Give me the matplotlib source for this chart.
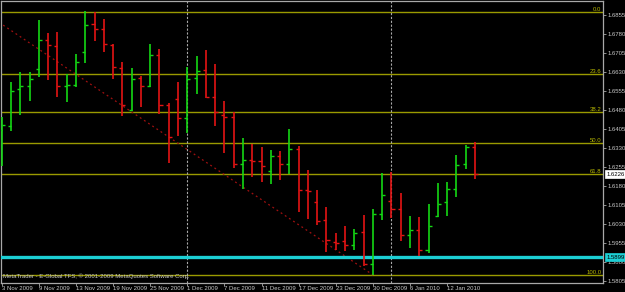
import matplotlib
matplotlib.use("Agg")
import matplotlib.pyplot as plt
import matplotlib.transforms as mtransforms

# daily GBPUSD-style bars, 3 Nov 2009 .. 14 Jan 2010
opens = [1.6401, 1.6417, 1.6563, 1.6575, 1.6642, 1.6756, 1.6733, 1.6575, 1.6579, 1.6709,
         1.6819, 1.6800, 1.6737, 1.6646, 1.6480, 1.6606, 1.6575, 1.6697, 1.6500, 1.6523,
         1.6448, 1.6606, 1.6638, 1.6531, 1.6460, 1.6452, 1.6267, 1.6283, 1.6279, 1.6239,
         1.6298, 1.6267, 1.6326, 1.6164, 1.6117, 1.6046, 1.5959, 1.5963, 1.5947, 1.5998,
         1.5872, 1.6069, 1.6121, 1.6089, 1.5987, 1.6006, 1.5927, 1.6062, 1.6117, 1.6168,
         1.6267, 1.6334]
highs = [1.6452, 1.6591, 1.6630, 1.6630, 1.6835, 1.6784, 1.6788, 1.6622, 1.6701, 1.6871,
         1.6867, 1.6839, 1.6741, 1.6669, 1.6646, 1.6614, 1.6741, 1.6721, 1.6508, 1.6591,
         1.6650, 1.6693, 1.6717, 1.6662, 1.6516, 1.6472, 1.6369, 1.6346, 1.6334, 1.6322,
         1.6318, 1.6405, 1.6338, 1.6243, 1.6164, 1.6097, 1.5994, 1.6022, 1.6010, 1.6066,
         1.6089, 1.6231, 1.6235, 1.6152, 1.6062, 1.6058, 1.6109, 1.6192, 1.6196, 1.6302,
         1.6342, 1.6354]
lows = [1.6259, 1.6397, 1.6460, 1.6516, 1.6610, 1.6598, 1.6531, 1.6512, 1.6571, 1.6666,
        1.6752, 1.6709, 1.6602, 1.6456, 1.6476, 1.6492, 1.6571, 1.6464, 1.6271, 1.6377,
        1.6389, 1.6543, 1.6527, 1.6417, 1.6310, 1.6251, 1.6168, 1.6216, 1.6196, 1.6188,
        1.6204, 1.6227, 1.6077, 1.6050, 1.6026, 1.5919, 1.5927, 1.5923, 1.5927, 1.5864,
        1.5829, 1.6046, 1.6054, 1.5963, 1.5935, 1.5904, 1.5916, 1.6058, 1.6062, 1.6137,
        1.6247, 1.6208]
closes = [1.6421, 1.6555, 1.6575, 1.6602, 1.6756, 1.6737, 1.6575, 1.6579, 1.6669, 1.6816,
          1.6800, 1.6741, 1.6650, 1.6500, 1.6602, 1.6575, 1.6697, 1.6500, 1.6373, 1.6448,
          1.6602, 1.6634, 1.6531, 1.6472, 1.6452, 1.6267, 1.6283, 1.6279, 1.6259, 1.6298,
          1.6267, 1.6326, 1.6164, 1.6160, 1.6042, 1.5967, 1.5955, 1.5947, 1.5994, 1.5872,
          1.6069, 1.6144, 1.6089, 1.5987, 1.6006, 1.5927, 1.6022, 1.6109, 1.6168, 1.6263,
          1.6334, 1.6226]

date_ticks = [0, 4, 8, 12, 16, 20, 24, 28, 32, 36, 40, 44, 48]
date_labels = ["3 Nov 2009", "9 Nov 2009", "13 Nov 2009", "19 Nov 2009", "25 Nov 2009",
               "1 Dec 2009", "7 Dec 2009", "11 Dec 2009", "17 Dec 2009", "23 Dec 2009",
               "30 Dec 2009", "6 Jan 2010", "12 Jan 2010"]
price_ticks = [1.6855, 1.6780, 1.6705, 1.6630, 1.6555, 1.6480, 1.6405, 1.6330,
               1.6255, 1.6180, 1.6105, 1.6030, 1.5955, 1.5880, 1.5805]

fib_high = 1.6868
fib_low = 1.5829
fib_start_bar = -2
fib_end_bar = 40
fib_levels = [0.0, 23.6, 38.2, 50.0, 61.8, 100.0]
month_separators = [20, 42]
support = 1.5899
last_price = 1.6226

BG = "#000000"
GRID = "#a8a8a8"
TXT = "#c8c8c8"
UP = "#14d814"
DOWN = "#e41414"
FIB = "#9a9a00"
FONT = "Liberation Sans"
FS = 4.3

fig = plt.figure(figsize=(6.25, 2.92), dpi=100, facecolor=BG)
W, H = 625, 292
ax = fig.add_axes([1 / W, (H - 283) / H, 602 / W, 282 / H], facecolor=BG)
ax.set_xlim(-0.08, 64.8)
ax.set_ylim(1.5797, 1.6910)

# fibonacci levels
rng = fib_high - fib_low
for lvl in fib_levels:
    p = fib_high - rng * lvl / 100.0
    ax.axhline(p, color=FIB, lw=1.0, zorder=1)
    ax.text(0.997, p, f"{lvl:.1f}", transform=ax.get_yaxis_transform(), ha="right",
            va="bottom", color="#b8b800", fontsize=FS, family=FONT, zorder=5)
ax.plot([fib_start_bar, fib_end_bar], [fib_high, fib_low], color="#a01010", lw=0.9,
        ls=(0, (1.5, 2.5)), zorder=2)

# monthly separators
for b in month_separators:
    ax.axvline(b, color=GRID, lw=0.8, ls=(0, (2, 1.5)), zorder=1)

# support line
ax.axhline(support, color="#1ccfd4", lw=2.4, zorder=3)

# OHLC bars
idx = list(range(len(opens)))
cols = [UP if c >= o else DOWN for o, c in zip(opens, closes)]
ax.vlines(idx, lows, highs, colors=cols, lw=1.2, zorder=4)
ax.hlines(opens, [i - 0.33 for i in idx], idx, colors=cols, lw=1.0, zorder=4)
ax.hlines(closes, idx, [i + 0.33 for i in idx], colors=cols, lw=1.0, zorder=4)

# axes look
for side in ["left", "top", "right", "bottom"]:
    ax.spines[side].set_color(GRID)
    ax.spines[side].set_linewidth(0.9)
ax.yaxis.tick_right()
ax.set_yticks(price_ticks)
ax.set_yticklabels([f"{p:.4f}" for p in price_ticks])
ax.set_xticks(date_ticks)
ax.set_xticklabels(date_labels)
ax.tick_params(axis="y", colors=GRID, labelcolor=TXT, length=2, width=0.6, pad=1.5,
               labelsize=FS)
ax.tick_params(axis="x", colors=GRID, labelcolor=TXT, length=2, width=0.6, pad=0.5,
               labelsize=FS)
for lab in ax.get_xticklabels():
    lab.set_horizontalalignment("left")
    lab.set_family(FONT)
for lab in ax.get_yticklabels():
    lab.set_family(FONT)

# price boxes on the axis
btr = mtransforms.blended_transform_factory(ax.transAxes, ax.transData)
ax.text(1.006, last_price, f"{last_price:.4f}", transform=btr, ha="left", va="center",
        color="black", fontsize=FS, family=FONT, clip_on=False, zorder=10,
        bbox=dict(boxstyle="square,pad=0.25", fc="white", ec="white", lw=0.5))
ax.text(1.006, support, f"{support:.4f}", transform=btr, ha="left", va="center",
        color="black", fontsize=FS, family=FONT, clip_on=False, zorder=10,
        bbox=dict(boxstyle="square,pad=0.25", fc="#1ccfd4", ec="#1ccfd4", lw=0.5))

ax.text(0.004, 0.025, "MetaTrader - E-Global TFS, \u00a9 2001-2009 MetaQuotes Software Corp.",
        transform=ax.transAxes, ha="left", va="center", color=TXT, fontsize=FS,
        family=FONT, zorder=6)

fig.savefig("out.png", dpi=100, facecolor=BG)
